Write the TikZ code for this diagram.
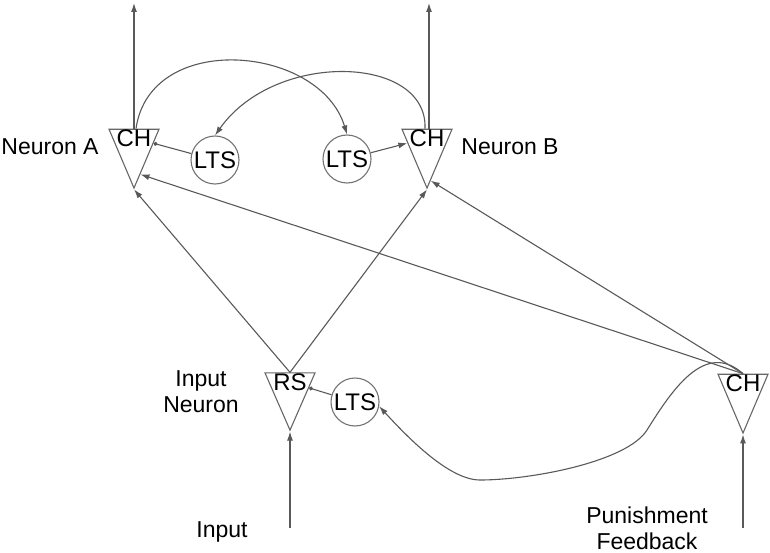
\documentclass[tikz,border=0pt]{standalone}
\usepackage{fontspec}
\setmainfont{Liberation Sans}
\usetikzlibrary{shapes.geometric,arrows.meta,positioning}

\tikzset{
  cell/.style={isosceles triangle,isosceles triangle stretches,shape border rotate=270,
    minimum width=50pt,minimum height=54pt,inner sep=0pt,draw=black!60,line width=1.1pt},
  lts/.style={circle,draw=black!55,line width=1.1pt,minimum size=48pt,inner sep=0pt},
  lbl/.style={align=center,font=\fontsize{23}{26}\selectfont},
  arr/.style={draw=black!65,line width=1.1pt,-{Latex[length=9pt,width=6pt]}},
  inh/.style={draw=black!65,line width=1.1pt,-{Circle[length=4pt]}}
}

\begin{document}
\begin{tikzpicture}[x=1pt,y=-1pt,font=\fontsize{24}{26}\selectfont]
  \useasboundingbox (0,0) rectangle (770,553);
  % cells
  \node[cell] (A) at (134,138) {CH};
  \node[cell] (B) at (427,138) {CH};
  \node[cell] (RS) at (290,382) {RS};
  \node[cell] (C) at (743,383) {CH};
  \node[lts] (LTSa) at (215,160) {LTS};
  \node[lts] (LTSb) at (347,159) {LTS};
  \node[lts] (LTSc) at (355,402) {LTS};
  % labels
  \node[lbl,anchor=base] (labA) at (50,155) {Neuron A};
  \node[lbl,anchor=base] (labB) at (510,155) {Neuron B};
  \node[lbl] (labRS) at (201,392) {Input\\Neuron};
  \node[lbl,anchor=base] (labIn) at (222,537) {Input};
  \node[lbl] (labP) at (647,528) {Punishment\\Feedback};
  % free ends
  \coordinate (outA) at (134,3);
  \coordinate (outB) at (429,3);
  \coordinate (inRS) at (290,528);
  \coordinate (inC) at (743,528);

  \draw[arr] (A.north) -- (outA);
  \draw[arr] (B.north -| outB) -- (outB);
  \draw[arr] ([xshift=2pt]A.north) .. controls (150,30) and (320,45) .. (LTSb.north);
  \draw[arr] ([xshift=-2pt]B.north) .. controls (428,55) and (275,50) .. (LTSa.north);
  \draw[inh] (LTSa) -- (A);
  \draw[arr] (LTSb) -- (B);
  \draw[inh] (LTSc) -- (RS);
  \draw[arr] (RS.north) -- (A.apex);
  \draw[arr] (RS.north) -- (B.apex);
  \draw[arr] (C.north) -- (A.-80);
  \draw[arr] (C.north) -- (B.-85);
  \draw[arr] (C.north) .. controls (705,340) and (672,390) .. (647,430)
    .. controls (627,462) and (530,480) .. (480,480)
    .. controls (450,480) and (410,440) .. (LTSc.-10);
  \draw[arr] (inRS) -- (RS.apex);
  \draw[arr] (inC) -- (C.apex);
\end{tikzpicture}
\end{document}
